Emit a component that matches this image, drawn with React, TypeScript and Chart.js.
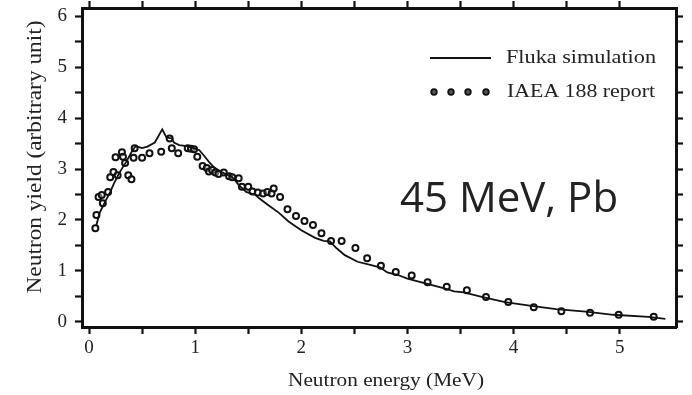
import React, { useEffect, useRef } from "react";
import { Chart, registerables } from "chart.js";

Chart.register(...registerables);

// ---- Data -----------------------------------------------------------------
const flukaEnergy = [
  0.07, 0.1, 0.15, 0.2, 0.24, 0.29, 0.35, 0.4, 0.44, 0.5, 0.55, 0.62, 0.69, 0.73, 0.78, 0.8,
  0.85, 0.92, 0.97, 1.04, 1.08, 1.13, 1.18, 1.25, 1.35, 1.41, 1.48, 1.57, 1.6, 1.69, 1.79,
  1.88, 2.0, 2.13, 2.21, 2.27, 2.33, 2.41, 2.53, 2.65, 2.74, 2.81, 2.91, 3.0, 3.16, 3.33,
  3.44, 3.53, 3.7, 3.92, 4.15, 4.4, 4.68, 4.94, 5.27, 5.43,
];
const flukaYield = [
  1.9, 2.14, 2.35, 2.55, 2.74, 2.94, 3.14, 3.33, 3.45, 3.41, 3.44, 3.52, 3.78, 3.62, 3.6, 3.52,
  3.47, 3.45, 3.42, 3.37, 3.27, 3.14, 3.03, 2.94, 2.84, 2.69, 2.55, 2.49, 2.43, 2.29, 2.14,
  1.97, 1.8, 1.65, 1.59, 1.58, 1.45, 1.31, 1.18, 1.12, 1.07, 0.97, 0.92, 0.85, 0.76, 0.67,
  0.6, 0.58, 0.49, 0.39, 0.32, 0.25, 0.2, 0.14, 0.1, 0.06,
];

const iaeaEnergy = [
  0.06, 0.07, 0.09, 0.12, 0.13, 0.18, 0.2, 0.23, 0.25, 0.27, 0.31, 0.32, 0.34, 0.37, 0.4,
  0.42, 0.43, 0.5, 0.57, 0.68, 0.76, 0.78, 0.84, 0.93, 0.96, 0.99, 1.02, 1.07, 1.11, 1.13,
  1.16, 1.19, 1.22, 1.27, 1.32, 1.35, 1.41, 1.44, 1.5, 1.54, 1.59, 1.64, 1.68, 1.72, 1.74,
  1.8, 1.87, 1.95, 2.03, 2.11, 2.19, 2.28, 2.38, 2.51, 2.62, 2.75, 2.89, 3.04, 3.19, 3.37,
  3.56, 3.74, 3.95, 4.19, 4.45, 4.72, 4.99, 5.32,
];
const iaeaYield = [
  1.84, 2.1, 2.45, 2.49, 2.33, 2.55, 2.84, 2.94, 3.23, 2.88, 3.33, 3.24, 3.12, 2.88, 2.8,
  3.22, 3.41, 3.22, 3.31, 3.34, 3.6, 3.41, 3.31, 3.41, 3.4, 3.39, 3.24, 3.06, 3.02, 2.95,
  2.98, 2.93, 2.9, 2.93, 2.86, 2.84, 2.82, 2.65, 2.65, 2.56, 2.54, 2.52, 2.55, 2.52, 2.62,
  2.45, 2.21, 2.08, 1.98, 1.9, 1.74, 1.59, 1.59, 1.45, 1.25, 1.1, 0.98, 0.91, 0.78, 0.69,
  0.62, 0.49, 0.39, 0.29, 0.21, 0.18, 0.14, 0.1,
];

const xTickValues = [0, 0.5, 1, 1.5, 2, 2.5, 3, 3.5, 4, 4.5, 5];
const yTickValues = [0, 0.5, 1, 1.5, 2, 2.5, 3, 3.5, 4, 4.5, 5, 5.5, 6];

const xTitle = "Neutron energy (MeV)";
const yTitle = "Neutron yield (arbitrary unit)";
const seriesNames = ["Fluka simulation", "IAEA 188 report"];
const annotationText = "45 MeV, Pb";

// ---- Styling --------------------------------------------------------------
const SERIF = '"Liberation Serif", "DejaVu Serif", serif';
const SANS = '"Open Sans", "Noto Sans", sans-serif';
const INK = "#111";
const TEXT = "#222";

function drawStretched(
  ctx: CanvasRenderingContext2D,
  text: string,
  x: number,
  y: number,
  font: string,
  targetWidth: number,
  align: CanvasTextAlign,
  rotate = 0
) {
  ctx.save();
  ctx.font = font;
  const w = ctx.measureText(text).width;
  const sx = targetWidth / w;
  ctx.translate(x, y);
  if (rotate) ctx.rotate(rotate);
  ctx.scale(sx, 1);
  ctx.fillStyle = TEXT;
  ctx.textAlign = align;
  ctx.textBaseline = "middle";
  ctx.fillText(text, 0, 0);
  ctx.restore();
}

const overlayPlugin = {
  id: "overlay",
  afterDraw(chart: any) {
    const ctx: CanvasRenderingContext2D = chart.ctx;
    // legend
    ctx.save();
    ctx.strokeStyle = INK;
    ctx.lineWidth = 2;
    ctx.beginPath();
    ctx.moveTo(430, 58);
    ctx.lineTo(491, 58);
    ctx.stroke();
    [434, 451, 468, 486].forEach((cx) => {
      ctx.beginPath();
      ctx.arc(cx, 92, 2.8, 0, Math.PI * 2);
      ctx.fillStyle = "#555";
      ctx.fill();
      ctx.lineWidth = 1.8;
      ctx.stroke();
    });
    ctx.restore();
    drawStretched(ctx, seriesNames[0], 506, 58, `19px ${SERIF}`, 150, "left");
    drawStretched(ctx, seriesNames[1], 507, 92, `19px ${SERIF}`, 148, "left");

    // axis titles
    drawStretched(ctx, xTitle, 386, 381, `18px ${SERIF}`, 196, "center");
    drawStretched(ctx, yTitle, 35, 157, `21px ${SERIF}`, 273, "center", -Math.PI / 2);

    // annotation
    ctx.save();
    ctx.font = `42px ${SANS}`;
    ctx.fillStyle = "#222";
    ctx.textAlign = "left";
    ctx.textBaseline = "alphabetic";
    ctx.fillText(annotationText, 400, 212);
    ctx.restore();
  },
};

const intLabel = (v: any) => (Number.isInteger(Number(v)) ? String(v) : "");

function axisCommon(vals: number[]) {
  return {
    type: "linear" as const,
    afterBuildTicks: (s: any) => {
      s.ticks = vals.map((v) => ({ value: v }));
    },
    border: { display: true, color: INK, width: 3 },
    grid: {
      drawOnChartArea: false,
      drawTicks: true,
      tickLength: 7,
      tickWidth: 2.2,
      tickColor: INK,
    },
  };
}

function fixSize(prop: "width" | "height", size: number) {
  return (s: any) => {
    s[prop] = size;
    s.paddingTop = 0;
    s.paddingBottom = 0;
    s.paddingLeft = 0;
    s.paddingRight = 0;
  };
}

export default function App() {
  const ref = useRef<HTMLCanvasElement | null>(null);

  useEffect(() => {
    if (!ref.current) return;
    const chart = new Chart(ref.current, {
      type: "scatter",
      data: {
        datasets: [
          {
            type: "line",
            label: seriesNames[0],
            data: flukaEnergy.map((e, i) => ({ x: e, y: flukaYield[i] })),
            borderColor: INK,
            borderWidth: 1.8,
            pointRadius: 0,
            tension: 0,
            fill: false,
            xAxisID: "x",
            yAxisID: "y",
          } as any,
          {
            type: "scatter",
            label: seriesNames[1],
            data: iaeaEnergy.map((e, i) => ({ x: e, y: iaeaYield[i] })),
            pointRadius: 3,
            pointBorderWidth: 2,
            pointBorderColor: INK,
            pointBackgroundColor: "rgba(255,255,255,0.4)",
            showLine: false,
            xAxisID: "x",
            yAxisID: "y",
          } as any,
        ],
      },
      options: {
        responsive: false,
        animation: false,
        devicePixelRatio: 1,
        layout: { padding: 0 },
        plugins: {
          legend: { display: false },
          tooltip: { enabled: false },
        },
        scales: {
          x: {
            ...axisCommon(xTickValues),
            position: "bottom",
            min: -0.066,
            max: 5.53,
            afterFit: fixSize("height", 68),
            ticks: {
              callback: intLabel,
              autoSkip: false,
              maxRotation: 0,
              padding: 3,
              color: TEXT,
              font: { family: SERIF, size: 19 },
            },
          },
          x2: {
            ...axisCommon(xTickValues),
            position: "top",
            min: -0.066,
            max: 5.53,
            afterFit: fixSize("height", 8),
            ticks: { display: false },
          },
          y: {
            ...axisCommon(yTickValues),
            position: "left",
            min: -0.1,
            max: 6.16,
            afterFit: fixSize("width", 82),
            ticks: {
              callback: intLabel,
              autoSkip: false,
              padding: 8,
              color: TEXT,
              font: { family: SERIF, size: 19 },
            },
          },
          y2: {
            ...axisCommon(yTickValues),
            position: "right",
            min: -0.1,
            max: 6.16,
            afterFit: fixSize("width", 16),
            ticks: { display: false },
          },
        } as any,
      },
      plugins: [overlayPlugin],
    });
    return () => chart.destroy();
  }, []);

  return (
    <div style={{ position: "absolute", left: 0, top: 0, width: 692, height: 395, background: "#fff" }}>
      <canvas ref={ref} width={692} height={395} />
    </div>
  );
}
